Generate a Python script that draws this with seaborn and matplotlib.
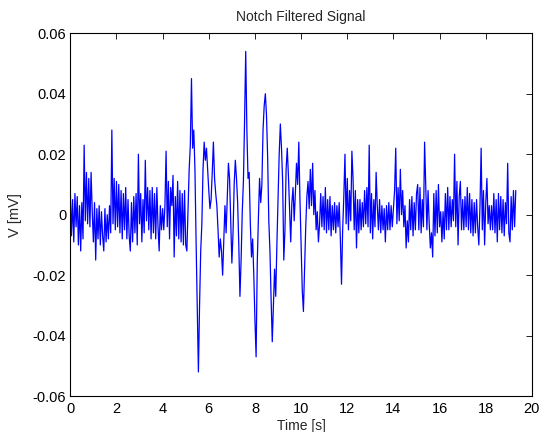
import numpy as np
import pandas as pd
import matplotlib
matplotlib.use('Agg')
import matplotlib.pyplot as plt
import seaborn as sns

# sample rate used for the values (one row per second)
fs = 20

# signal values in units of 1e-3
sig_vals = [
    8, -7, 5, -9, 7, -4, 6, -10, 3, -12, 4, -8, 23, -2, 14, -3, 12, -4, 14, 1,
    -9, 4, -15, 2, -8, 3, -10, 1, -7, -12, 2, -9, 0, -8, 3, -6, 28, -3, 12, -5,
    11, -4, 10, -6, 8, -8, 7, -5, 9, -8, 5, -7, -12, 4, -9, 6, -6, 7, -10, 20,
    -3, 7, -9, 5, -6, 18, -2, 9, -5, 8, -8, 9, -6, 7, -8, 9, -4, -12, 3, -5,
    2, -5, 3, 21, -4, 11, -8, 9, 3, 13, -14, 6, -7, 11, -8, 8, -9, 7, -10, 8,
    -10, -12, 2, 15, 23, 45, 22, 28, 15, -9, -30, -52, -30, -12, -3, 15, 24, 18, 22, 15,
    8, 2, 5, 14, 24, 12, 7, 3, -5, -14, -8, -12, -20, -8, 3, -6, 5, 17, 12, -2,
    -16, -6, 10, 18, 12, 4, -10, -27, -15, 1, 11, 31, 54, 28, 12, 14, -3, -14, -8, -20,
    -35, -47, -16, -1, 12, 4, 10, 28, 36, 40, 33, 19, -2, -12, -28, -42, -30, -18, -27, -10,
    5, 20, 30, 22, 11, -15, -5, 15, 22, 13, 2, -9, 4, 9, -2, 7, 17, 10, 24, 5,
    -10, -25, -32, -18, -4, 6, 11, 2, 15, 3, 17, 0, 8, -5, 1, -9, -3, 7, -4, 6,
    -5, 9, -6, 5, -5, 6, -7, 3, -5, 4, -6, 3, -4, 4, -8, -23, -5, 6, 20, -3,
    12, -5, 8, -2, 21, 12, -5, 8, -11, 5, -6, 5, -5, 4, -4, 8, -3, 9, -4, 23,
    -6, 7, -8, 5, -4, 14, 3, -5, 5, -6, 3, -5, 2, -9, 3, -5, 4, -5, 3, -4,
    2, 8, 22, -3, 9, -2, 15, 0, 8, -4, 3, -11, -2, -9, 5, -5, 6, -7, 4, -5,
    7, 10, -5, 9, -6, 5, -4, 24, 9, -5, 8, -3, -11, -6, -14, 7, -7, 8, -6, 10,
    -4, 1, -9, 1, -8, 7, -5, 9, -5, 6, -4, 5, -2, 20, -4, 11, -10, 6, 11, -5,
    5, -5, 6, -4, 9, -5, 7, -6, 5, -7, 4, -6, 5, -4, -10, 3, 22, -5, 8, -10,
    4, 12, -3, 3, -5, 3, -5, 7, -6, 5, -9, 7, -5, 6, -6, 5, -7, 4, -3, 17,
    -6, -9, 6, -5, 8, -4, 8,
]

x_ticks = [0, 2, 4, 6, 8, 10, 12, 14, 16, 18, 20]
y_ticks = [-0.06, -0.04, -0.02, 0, 0.02, 0.04, 0.06]
y_tick_labels = ['-0.06', '-0.04', '-0.02', '0', '0.02', '0.04', '0.06']

df = pd.DataFrame({'t': np.arange(len(sig_vals)) / fs,
                   'v': np.array(sig_vals) * 1e-3})

sns.set_style('white')
plt.rcParams['font.family'] = ['Liberation Sans', 'DejaVu Sans']
plt.rcParams['xtick.direction'] = 'in'
plt.rcParams['ytick.direction'] = 'in'

fig = plt.figure(figsize=(5.45, 4.32), dpi=100)
ax = fig.add_axes([0.129, 0.083, 0.847, 0.840])
sns.lineplot(data=df, x='t', y='v', color='#0000ff', linewidth=0.9, ax=ax)

ax.set_xlim(0, 20)
ax.set_ylim(-0.06, 0.06)
ax.set_xticks(x_ticks)
ax.set_xticklabels([str(x) for x in x_ticks])
ax.set_yticks(y_ticks)
ax.set_yticklabels(y_tick_labels)
ax.tick_params(axis='both', which='both', direction='in', length=4.5, width=0.6,
               top=True, right=True, labelsize=10.5, colors='black')
ax.tick_params(axis='x', pad=4)
ax.tick_params(axis='y', pad=3)
for sp in ax.spines.values():
    sp.set_visible(True)
    sp.set_color('black')
    sp.set_linewidth(0.8)

ax.set_title('Notch Filtered Signal', fontsize=10, pad=9)
ax.set_xlabel('Time [s]', fontsize=10)
ax.xaxis.set_label_coords(0.5, -0.062)
ax.set_ylabel('V [mV]', fontsize=10.5, labelpad=8)

fig.savefig('out.png', dpi=100)
